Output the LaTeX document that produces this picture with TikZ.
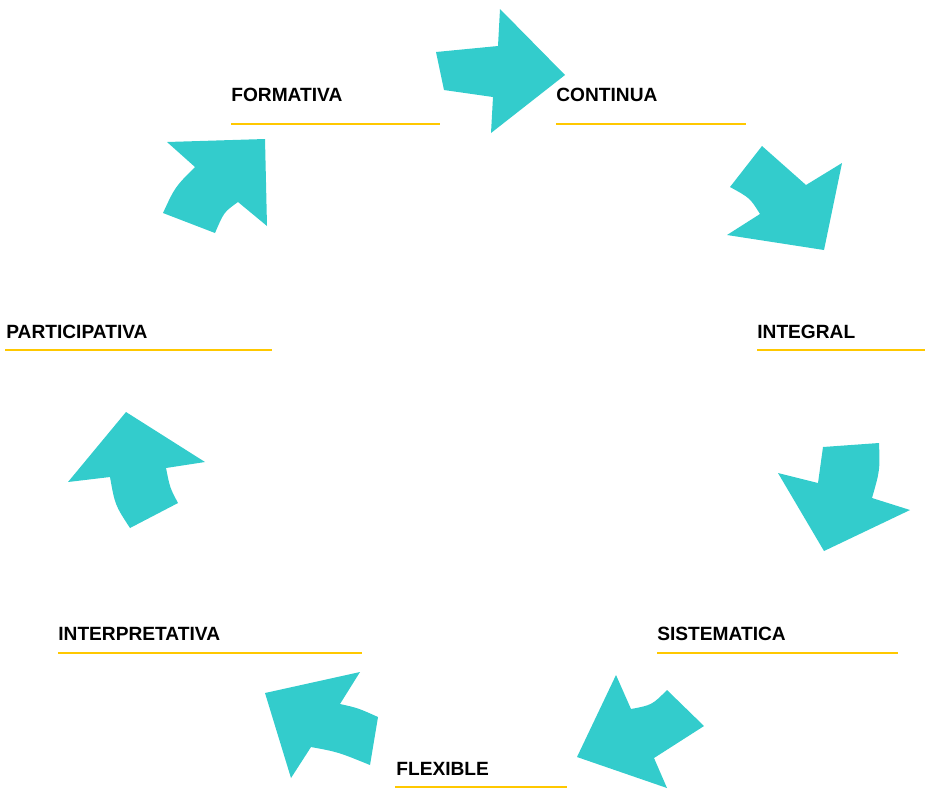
\documentclass[tikz,border=0pt]{standalone}
\usepackage{fontspec}
\setmainfont{Liberation Sans}
\definecolor{turquesa}{HTML}{33CCCC}
\definecolor{dorado}{HTML}{FFC800}
\tikzset{
  flecha/.style={fill=turquesa},
  etiqueta/.style={anchor=base west,inner sep=0pt,font=\fontsize{10.9}{12}\selectfont\bfseries},
  raya/.style={draw=dorado,line width=1.1pt}
}
\begin{document}
\begin{tikzpicture}[x=0.02cm,y=-0.02cm]
\useasboundingbox (0,0) rectangle (925,789);
% etiquetas
\node[etiqueta] (formativa) at (231,101) {FORMATIVA};
\node[etiqueta] (continua) at (556,101) {CONTINUA};
\node[etiqueta] (integral) at (757,338) {INTEGRAL};
\node[etiqueta] (participativa) at (6,338) {PARTICIPATIVA};
\node[etiqueta] (sistematica) at (657,640) {SISTEMATICA};
\node[etiqueta] (interpretativa) at (58,640) {INTERPRETATIVA};
\node[etiqueta] (flexible) at (396,775) {FLEXIBLE};
% rayas
\draw[raya] (231,124) -- (440,124);
\draw[raya] (556,124) -- (746,124);
\draw[raya] (757,350) -- (925,350);
\draw[raya] (5,350) -- (272,350);
\draw[raya] (657,653) -- (898,653);
\draw[raya] (58,653) -- (362,653);
\draw[raya] (395,787) -- (567,787);
% flechas
\fill[flecha] (436,52) -- (498,46) -- (500,9) -- (565,75) -- (491,133) -- (493,97) .. controls (468,94) .. (444,90) -- cycle;
\fill[flecha] (762,146) -- (806,185) -- (842,163) -- (824,250) -- (727,235) -- (760,214) .. controls (750,198) .. (730,187) -- cycle;
\fill[flecha] (823,447) -- (879,443) .. controls (880,470) .. (872,498) -- (910,510) -- (824,551) -- (778,473) -- (818,483) -- cycle;
\fill[flecha] (616,675) -- (631,709) .. controls (652,705) .. (667,690) -- (704,726) -- (654,758) -- (667,788) -- (577,757) -- cycle;
\fill[flecha] (360,672) -- (265,693) -- (291,778) -- (311,747) .. controls (338,752) .. (370,765) -- (378,717) .. controls (358,708) .. (340,704) -- cycle;
\fill[flecha] (126,412) -- (205,462) -- (166,468) .. controls (170,488) .. (178,503) -- (130,528) .. controls (115,505) .. (110,477) -- (68,482) -- cycle;
\fill[flecha] (167,142) -- (265,139) -- (267,226) -- (238,202) .. controls (224,212) .. (215,233) -- (163,213) .. controls (175,187) .. (195,167) -- cycle;
\end{tikzpicture}
\end{document}
